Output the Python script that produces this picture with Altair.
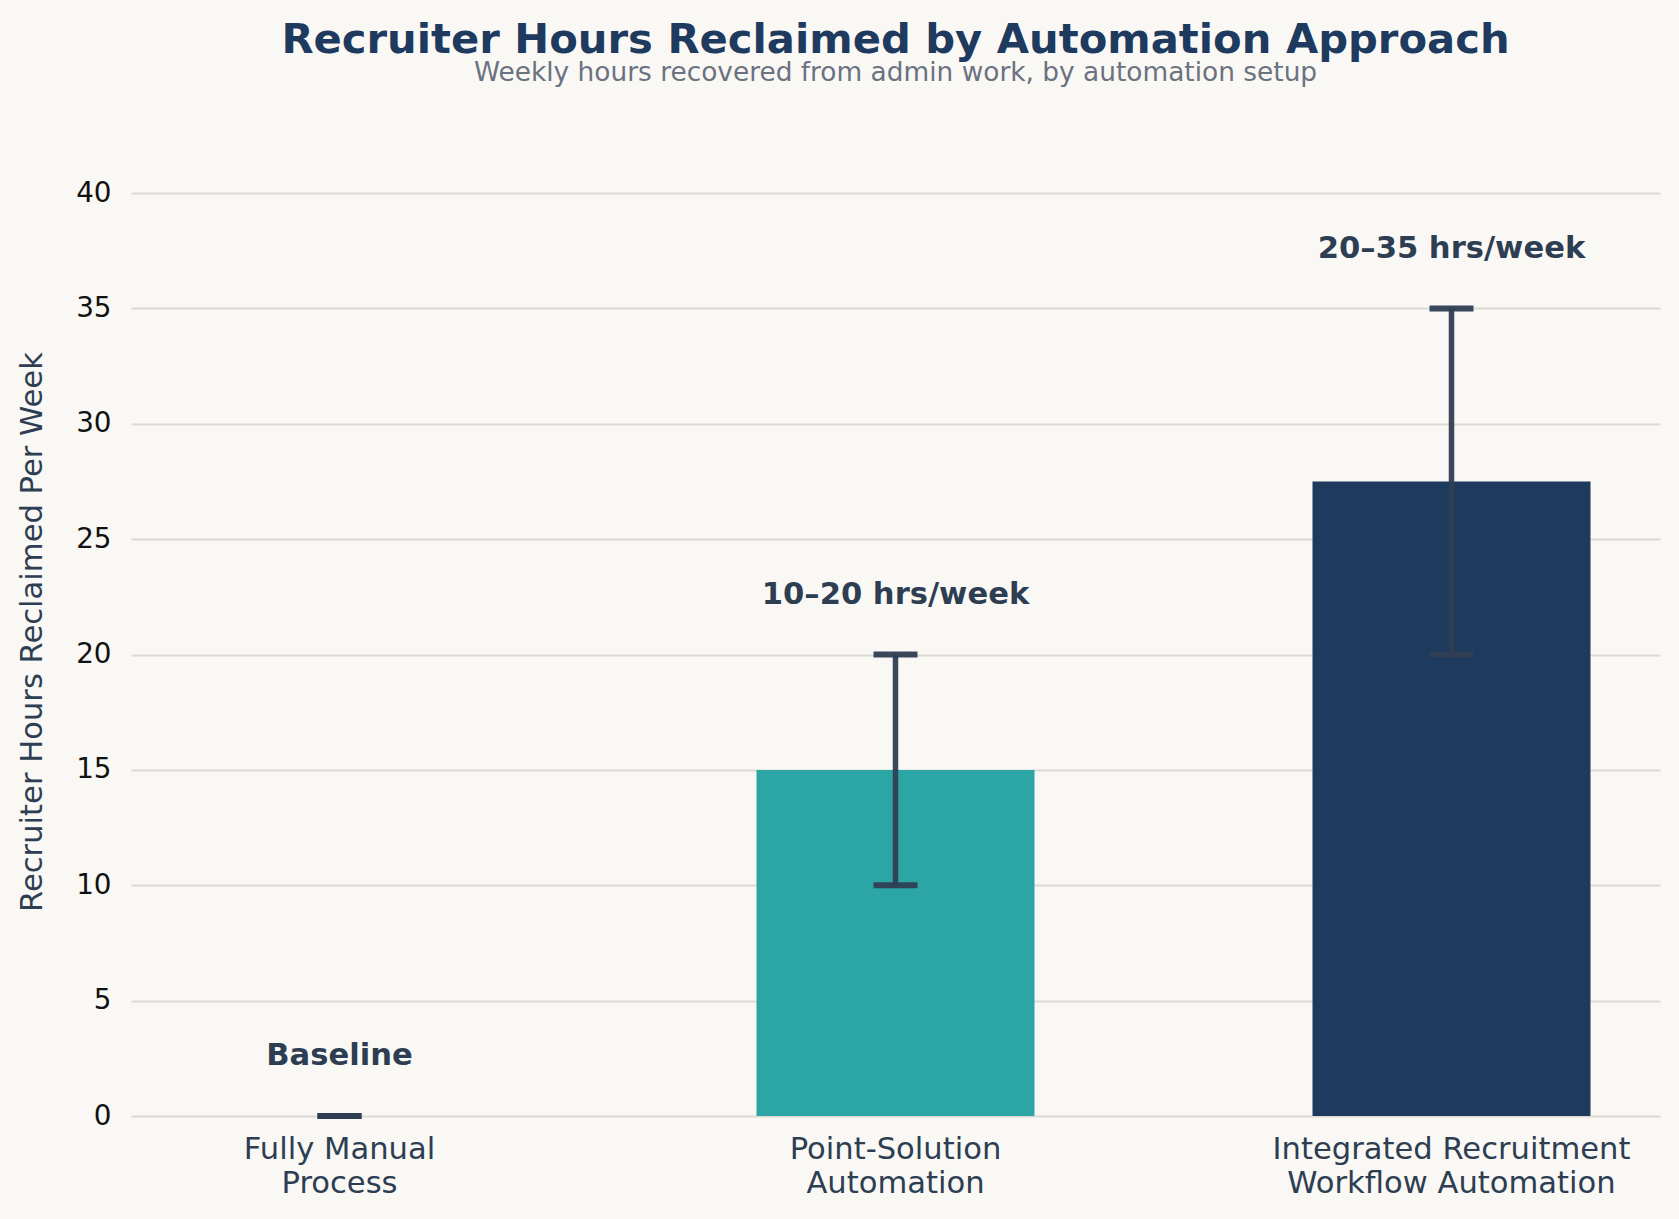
import altair as alt
import pandas as pd

categories = ["Fully Manual\nProcess", "Point-Solution\nAutomation", "Integrated Recruitment\nWorkflow Automation"]
low_hours = [0, 10, 20]
high_hours = [0, 20, 35]
mid_hours = [0, 15, 27.5]
range_labels = ["Baseline", "10–20 hrs/week", "20–35 hrs/week"]
bar_colors = ["#9AA5B1", "#2CA6A4", "#1F3A5F"]
y_ticks = [0, 5, 10, 15, 20, 25, 30, 35, 40]

df = pd.DataFrame({
    "category": categories,
    "low": low_hours,
    "high": high_hours,
    "mid": mid_hours,
    "label": range_labels,
})

FONT = "DejaVu Sans"
W, H = 1529, 969

x_enc = alt.X(
    "category:N",
    sort=categories,
    scale=alt.Scale(paddingInner=0.5, paddingOuter=0.125),
    axis=alt.Axis(
        title=None,
        labelExpr="split(datum.label, '\\n')",
        labelAngle=0,
        labelFont=FONT,
        labelFontSize=30.6,
        labelColor="#2E3E52",
        labelLineHeight=34,
        labelPadding=18,
        labelLimit=0,
        ticks=False,
        domain=False,
        grid=False,
    ),
)

bars = alt.Chart(df).mark_bar().encode(
    x=x_enc,
    y=alt.Y(
        "mid:Q",
        scale=alt.Scale(domain=[0, 42], nice=False),
        axis=alt.Axis(
            values=y_ticks,
            title="Recruiter Hours Reclaimed Per Week",
            titleFont=FONT,
            titleFontSize=30.6,
            titleFontWeight="normal",
            titleColor="#2E3E52",
            titleX=-99,
            titleY=H / 2,
            titleAngle=270,
            titleAlign="center",
            titleBaseline="middle",
            labelFont=FONT,
            labelFontSize=27.8,
            labelColor="#111111",
            labelPadding=20,
            ticks=False,
            domain=False,
            grid=True,
            gridColor="#DCDAD4",
            gridWidth=2,
        ),
    ),
    color=alt.Color(
        "category:N",
        scale=alt.Scale(domain=categories, range=bar_colors),
        legend=None,
    ),
)

err_color = "#2F3E52"

rules = alt.Chart(df).mark_rule(color=err_color, strokeWidth=5.5, opacity=0.95).encode(
    x=alt.X("category:N", sort=categories),
    y="low:Q",
    y2="high:Q",
)

caps_low = alt.Chart(df).mark_tick(color=err_color, size=44, thickness=6, opacity=0.95).encode(
    x=alt.X("category:N", sort=categories),
    y="low:Q",
)
caps_high = alt.Chart(df).mark_tick(color=err_color, size=44, thickness=6, opacity=0.95).encode(
    x=alt.X("category:N", sort=categories),
    y="high:Q",
)

labels = alt.Chart(df).mark_text(
    font=FONT, fontSize=30.6, fontWeight="bold", color="#2E3E52",
    baseline="middle", align="center", dy=-60,
).encode(
    x=alt.X("category:N", sort=categories),
    y="high:Q",
    text="label:N",
)

chart = alt.layer(bars, rules, caps_low, caps_high, labels).properties(
    width=W,
    height=H,
    title=alt.Title(
        "Recruiter Hours Reclaimed by Automation Approach",
        subtitle="Weekly hours recovered from admin work, by automation setup",
        font=FONT,
        fontSize=41.7,
        fontWeight="bold",
        color="#1F3A5F",
        subtitleFont=FONT,
        subtitleFontSize=26.4,
        subtitleColor="#6B7280",
        subtitlePadding=-2,
        anchor="middle",
        offset=61,
    ),
    autosize=alt.AutoSizeParams(type="none"),
    padding={"left": 131, "top": 147, "right": 19, "bottom": 103},
).configure(
    background="#FAF8F5",
).configure_view(
    stroke=None,
)

chart.save("out.html", embed_options={"renderer": "svg", "actions": False})
